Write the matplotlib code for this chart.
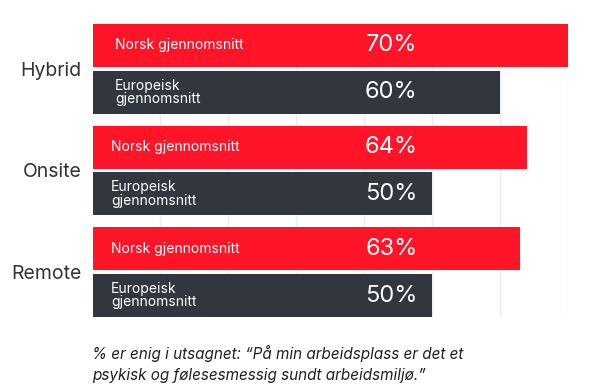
import numpy as np
import matplotlib.pyplot as plt

#------------- Data -----------------#
groups = ['Hybrid', 'Onsite', 'Remote']
norsk = [70, 64, 63]
europa = [60, 50, 50]
norsk_label = 'Norsk gjennomsnitt'
europa_label = 'Europeisk\ngjennomsnitt'
note = ('% er enig i utsagnet: \u201cP\u00e5 min arbeidsplass er det et\n'
        'psykisk og f\u00f8lesesmessig sundt arbeidsmilj\u00f8.\u201d')

RED = '#FF1428'
DARK = '#32373F'
plt.rcParams['font.family'] = ['Inter', 'DejaVu Sans']

#------------- Layout -----------------#
pitch = 2.16          # distance between group centres (in bar units)
h = 0.915             # bar height
centers = np.arange(len(groups)) * pitch
y_n = centers - 0.5
y_e = centers + 0.5

fig = plt.figure(figsize=(6.05, 3.92), dpi=100)
ax = fig.add_axes([92.5/605, 75/392, (568-92.5)/605, 293/392])

ax.barh(y_n, norsk, height=h, color=RED, zorder=2)
ax.barh(y_e, europa, height=h, color=DARK, zorder=2)

pads = [3.3, 2.7, 2.7]
for i in range(len(groups)):
    ax.text(pads[i], y_n[i], norsk_label, color='white', fontsize=10,
            va='center', ha='left', zorder=3)
    ax.text(pads[i], y_e[i], europa_label, color='white', fontsize=10,
            va='center', ha='left', linespacing=0.95, zorder=3)
    ax.text(44, y_n[i], f'{norsk[i]}%', color='white', fontsize=17,
            va='center', ha='center', zorder=3)
    ax.text(44, y_e[i], f'{europa[i]}%', color='white', fontsize=17,
            va='center', ha='center', zorder=3)

ax.set_xlim(0, 70)
ax.set_ylim(y_e[-1] + h/2, y_n[0] - h/2)
ax.set_xticks(np.arange(10, 71, 10))
ax.set_yticks(centers)
ax.set_yticklabels(groups, fontsize=14, color='#333333')
ax.tick_params(length=0, pad=8)
ax.set_xticklabels([])
ax.grid(axis='x', color='#EDEDED', linewidth=1, zorder=0)
for s in ax.spines.values():
    s.set_visible(False)

fig.text(92/605, 1 - 345/392, note, fontsize=11, style='italic',
         color='#222222', va='top', ha='left', linespacing=1.5)

plt.savefig('out.png', dpi=100)
